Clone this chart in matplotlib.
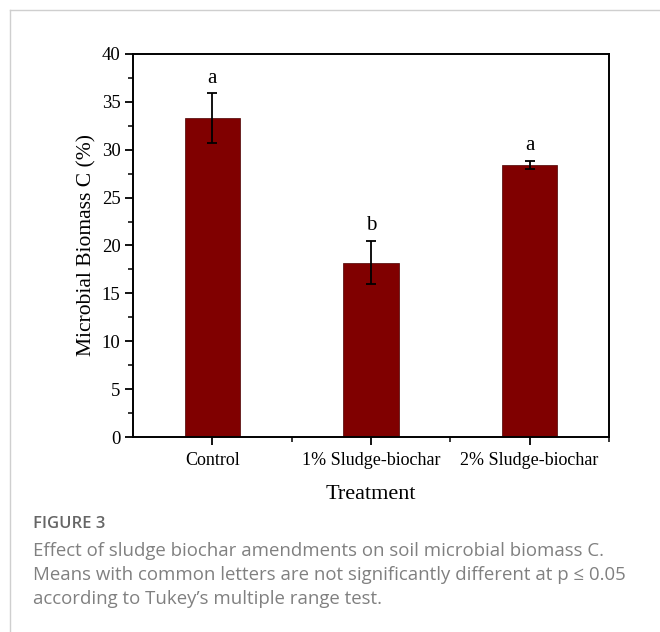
import numpy as np
import matplotlib.pyplot as plt
from matplotlib.ticker import MultipleLocator, FixedLocator
from matplotlib.lines import Line2D

treatments = ["Control", "1% Sludge-biochar", "2% Sludge-biochar"]
biomass_c = [33.3, 18.2, 28.4]
biomass_err = [2.6, 2.25, 0.4]
letters = ["a", "b", "a"]

caption_head = "FIGURE 3"
caption_lines = [
    "Effect of sludge biochar amendments on soil microbial biomass C.",
    "Means with common letters are not significantly different at p \u2264 0.05",
    "according to Tukey\u2019s multiple range test.",
]

W, H = 660, 632
fig = plt.figure(figsize=(W / 100, H / 100), dpi=100)

# card border (top and left)
fig.add_artist(Line2D([10 / W, 10 / W], [0, 1 - 10 / H], color="#cfcfcf", lw=1))
fig.add_artist(Line2D([10 / W, 1], [1 - 10 / H, 1 - 10 / H], color="#cfcfcf", lw=1))

ax = fig.add_axes([133 / W, 1 - 437 / H, (609 - 133) / W, (437 - 54) / H])
serif = "Liberation Serif"
x = np.arange(len(treatments))
ax.bar(x, biomass_c, width=0.35, color="#800000", edgecolor="#4a0000", lw=0.5, zorder=2)
ax.errorbar(x, biomass_c, yerr=biomass_err, fmt="none", ecolor="black",
            elinewidth=1.3, capsize=3.5, capthick=1.3, zorder=3)
for xi, v, e, t in zip(x, biomass_c, biomass_err, letters):
    ax.text(xi, v + e + 0.6, t, ha="center", va="bottom", family=serif, fontsize=15)

ax.set_xlim(-0.5, 2.5)
ax.set_ylim(0, 40)
ax.yaxis.set_major_locator(MultipleLocator(5))
ax.yaxis.set_minor_locator(MultipleLocator(2.5))
ax.set_xticks(x)
ax.set_xticklabels(treatments, family=serif, fontsize=13)
ax.xaxis.set_minor_locator(FixedLocator([0.5, 1.5, 2.5]))
for lab in ax.get_yticklabels():
    lab.set_family(serif)
    lab.set_fontsize(13.5)
ax.tick_params(axis="both", which="major", direction="out", length=6, width=1.3, pad=3)
ax.tick_params(axis="x", which="major", pad=5)
ax.tick_params(axis="both", which="minor", direction="out", length=3.5, width=1.1)
for s in ax.spines.values():
    s.set_linewidth(1.4)

ax.set_ylabel("Microbial Biomass C (%)", family=serif, fontsize=15.5, labelpad=4)
ax.set_xlabel("Treatment", family=serif, fontsize=16, labelpad=11)

fig.text(33 / W, 1 - 524 / H, caption_head, family="Open Sans", fontsize=12,
         color="#666666", va="center", ha="left", fontweight="semibold")
for i, line in enumerate(caption_lines):
    fig.text(33 / W, 1 - (551 + 24 * i) / H, line, family="Open Sans", fontsize=13.4,
             color="#808080", va="center", ha="left")

fig.savefig("out.png", dpi=100)
